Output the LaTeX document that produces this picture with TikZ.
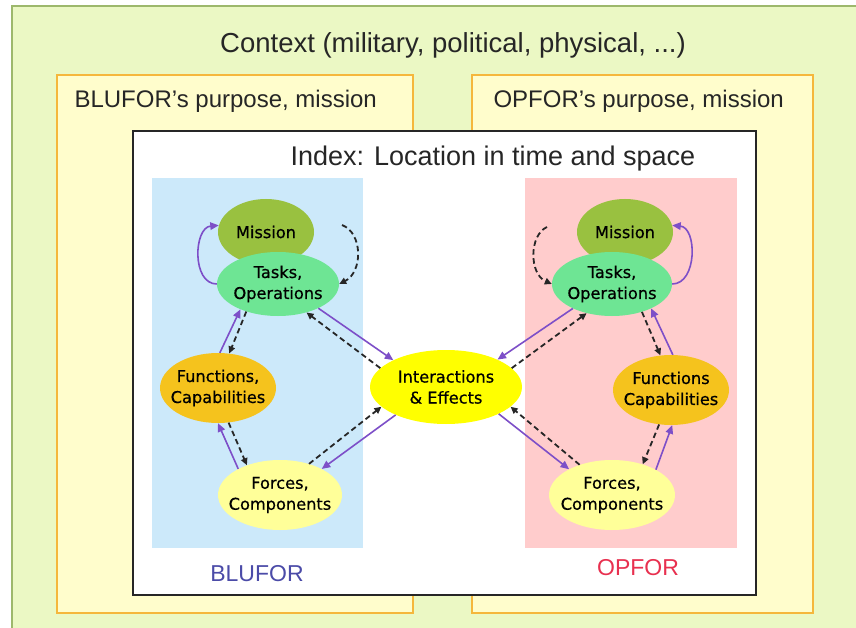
\documentclass[tikz,border=0pt]{standalone}
\usepackage{fontspec}
\setmainfont{Liberation Sans}
\newfontfamily\ellfont[FakeBold=0.6]{DejaVu Sans}
\usetikzlibrary{shapes.geometric,arrows.meta}

\definecolor{ctxfill}{HTML}{EBF8C4}
\definecolor{ctxline}{HTML}{9DB86C}
\definecolor{purpfill}{HTML}{FFFDCC}
\definecolor{purpline}{HTML}{F5B73C}
\definecolor{bluepanel}{HTML}{CCE9FA}
\definecolor{pinkpanel}{HTML}{FFCCCC}
\definecolor{missioncol}{HTML}{99C140}
\definecolor{taskscol}{HTML}{6EE594}
\definecolor{funccol}{HTML}{F5C31D}
\definecolor{forcecol}{HTML}{FFFF99}
\definecolor{intercol}{HTML}{FFFF00}
\definecolor{flowcol}{HTML}{7D4FC8}
\definecolor{bluetext}{HTML}{4B4BA8}
\definecolor{redtext}{HTML}{E8304F}

\tikzset{
  % the ellipse size is set by minimum width/height alone
  ell/.style={ellipse, inner xsep=-22pt, inner ysep=-16pt, align=center, text=black,
    font=\ellfont\fontsize{16.2}{21}\selectfont},
  purposebox/.style={fill=purpfill, draw=purpline, line width=1.8pt},
  flow/.style={draw=flowcol, line width=1.6pt,
    -{Triangle[length=8.5pt,width=7.5pt]}},
  feedback/.style={draw=black!85, line width=1.8pt, dash pattern=on 5.5pt off 3.5pt,
    -{Triangle[length=7pt,width=6.5pt]}},
  heading/.style={font=\fontsize{27.5}{31}\selectfont, text=black!85},
}

\begin{document}
\begin{tikzpicture}[x=1pt,y=-1pt]
\useasboundingbox (0,0) rectangle (856,628);
\clip (0,0) rectangle (856,628);
\fill[white] (0,0) rectangle (856,628);

% context frame
\draw[fill=ctxfill, draw=ctxline, line width=1.5pt] (12,6) rectangle (890,660);
\node[heading, anchor=base] (ctx) at (453,53) {Context (military, political, physical, ...)};

% purpose frames of the two sides
\draw[purposebox] (57,75) rectangle (413,613);
\draw[purposebox] (472,75) rectangle (813,613);
\node[font=\fontsize{24}{28}\selectfont, text=black!85, anchor=base west] (bp) at (71,108) {BLUFOR's purpose, mission};
\node[font=\fontsize{24}{28}\selectfont, text=black!85, anchor=base west] (op) at (490,108) {OPFOR's purpose, mission};

% index frame
\draw[fill=white, draw=black!85, line width=2pt] (133,131) rectangle (756,595);
\node[font=\fontsize{27}{30}\selectfont, text=black!85, anchor=base west] (idx) at (287,166) {Index: Location in time and space};

% side panels
\fill[bluepanel] (152,178) rectangle (363,548);
\fill[pinkpanel] (525,178) rectangle (737,548);
\node[font=\fontsize{23}{26}\selectfont, text=bluetext, anchor=base] (blu) at (257,581) {BLUFOR};
\node[font=\fontsize{23}{26}\selectfont, text=redtext, anchor=base] (opf) at (638,575) {OPFOR};

% BLUFOR nodes
\node[ell, fill=missioncol, minimum width=96pt, minimum height=66pt] (lM) at (266,232) {Mission};
\node[ell, fill=taskscol, minimum width=122pt, minimum height=64pt] (lT) at (278,284) {Tasks,\\Operations};
\node[ell, fill=funccol, minimum width=116pt, minimum height=70pt] (lF) at (218,388) {Functions,\\Capabilities};
\node[ell, fill=forcecol, minimum width=124pt, minimum height=70pt] (lP) at (280,495) {Forces,\\Components};

% shared node
\node[ell, fill=intercol, minimum width=152pt, minimum height=74pt] (I) at (446,387) {Interactions\\\& Effects};

% OPFOR nodes
\node[ell, fill=missioncol, minimum width=96pt, minimum height=66pt] (rM) at (625,232) {Mission};
\node[ell, fill=taskscol, minimum width=120pt, minimum height=64pt] (rT) at (612,284) {Tasks,\\Operations};
\node[ell, fill=funccol, minimum width=116pt, minimum height=70pt] (rF) at (671,390) {Functions\\Capabilities};
\node[ell, fill=forcecol, minimum width=126pt, minimum height=70pt] (rP) at (612,495) {Forces,\\Components};

% loose starts of the mission feedback loops
\coordinate (lMd) at (342,225);
\coordinate (rMd) at (547,227);

% BLUFOR links
\draw[flow] (lT.west) to[out=180,in=185,looseness=1.1] (lM.172);
\draw[feedback] (lMd) .. controls (363,233) and (363,272) .. (lT.east);
\draw[flow] (lF.87) -- (lT.214);
\draw[feedback] (lT.221) -- (lF.72);
\draw[flow] (lP.148) -- (lF.270);
\draw[feedback] (lF.287) -- (lP.138);
\draw[flow] (lT.-31) -- (I.153);
\draw[feedback] (I.164) -- (lT.-45);
\draw[flow] (I.209) -- (lP.32);
\draw[feedback] (lP.47) -- (I.197);

% OPFOR links
\draw[flow] (rT.east) to[out=0,in=-5,looseness=1.1] (rM.8);
\draw[feedback] (rMd) .. controls (529,235) and (529,274) .. (rT.west);
\draw[flow] (rT.212) -- (I.28);
\draw[feedback] (I.16) -- (rT.229);
\draw[flow] (I.-27) -- (rP.149);
\draw[feedback] (rP.137) -- (I.-17);
\draw[flow] (rP.30) -- (rF.-88);
\draw[feedback] (rF.251) -- (rP.45);
\draw[flow] (rF.87) -- (rT.-32);
\draw[feedback] (rT.-43) -- (rF.107);
\end{tikzpicture}
\end{document}
